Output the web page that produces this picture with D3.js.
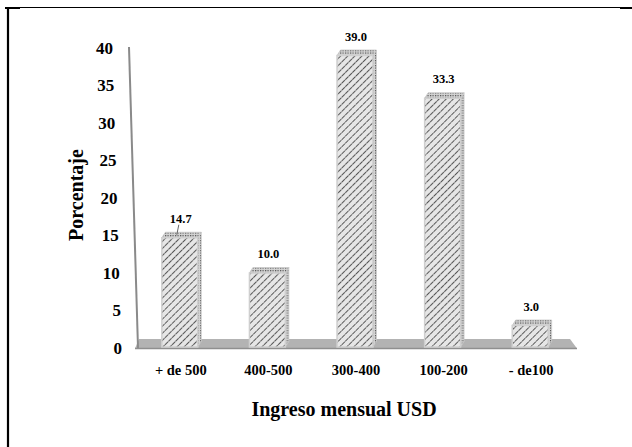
<!DOCTYPE html>
<html>
<head>
<meta charset="utf-8">
<script src="https://cdn.jsdelivr.net/npm/d3@7"></script>
<style>
  html, body { margin: 0; padding: 0; background: #fff; }
  svg { display: block; }
  text { font-family: "Liberation Serif", "Times New Roman", serif; font-weight: bold; fill: #000; }
</style>
</head>
<body>
<svg id="chart" width="632" height="447"></svg>
<script>
// Income brackets and share of households (%)
const categories = ["+ de 500", "400-500", "300-400", "100-200", "- de100"];
const values = [14.7, 10.0, 39.0, 33.3, 3.0];
const yTicks = [0, 5, 10, 15, 20, 25, 30, 35, 40];
const leaderCategories = ["+ de 500"];

const svg = d3.select("#chart");
const defs = svg.append("defs");

// Hatch for the front faces
const hatch = defs.append("pattern")
  .attr("id", "hatch").attr("patternUnits", "userSpaceOnUse")
  .attr("width", 5).attr("height", 5)
  .attr("patternTransform", "rotate(45)");
hatch.append("rect").attr("width", 5).attr("height", 5).attr("fill", "#e6e6e6");
hatch.append("line").attr("x1", 0).attr("y1", 0).attr("x2", 0).attr("y2", 5)
  .attr("stroke", "#333").attr("stroke-width", 1.6).attr("stroke-dasharray", "2.2 0.6");

// Dotted texture for the top and side faces
const dots = defs.append("pattern")
  .attr("id", "dots").attr("patternUnits", "userSpaceOnUse")
  .attr("width", 2.5).attr("height", 2.5);
dots.append("rect").attr("width", 2.5).attr("height", 2.5).attr("fill", "#d4d4d4");
dots.append("rect").attr("width", 1.2).attr("height", 1.2).attr("fill", "#505050");

// Frame lines
svg.append("line").attr("x1", 5).attr("y1", 7.5).attr("x2", 632).attr("y2", 7.5)
  .attr("stroke", "#000").attr("stroke-width", 1.2);
svg.append("line").attr("x1", 5).attr("y1", 8).attr("x2", 20).attr("y2", 8)
  .attr("stroke", "#000").attr("stroke-width", 2);
svg.append("line").attr("x1", 620).attr("y1", 8).attr("x2", 632).attr("y2", 8)
  .attr("stroke", "#000").attr("stroke-width", 2);
svg.append("line").attr("x1", 8).attr("y1", 7).attr("x2", 8).attr("y2", 447)
  .attr("stroke", "#000").attr("stroke-width", 2.2);

// Scales
const y = d3.scaleLinear().domain([0, 40]).range([348, 48]);
const x = d3.scaleBand().domain(categories).range([136, 574]).paddingInner(0.59).paddingOuter(0.295);

// Slanted back edge of the wall: x position as a function of height
const wallX = d3.scaleLinear().domain([0, 40]).range([138, 129]);

// Floor
const floorTop = 339, floorBottom = 348.5;
svg.append("polygon")
  .attr("points", [[139, floorTop], [570, floorTop], [577, floorBottom], [135, floorBottom]].map(p => p.join(",")).join(" "))
  .attr("fill", "#b3b3b3");
svg.append("line").attr("x1", 135).attr("y1", floorBottom).attr("x2", 577).attr("y2", floorBottom)
  .attr("stroke", "#8f8f8f").attr("stroke-width", 1.5);

// Vertical axis line
svg.append("line")
  .attr("x1", wallX(40)).attr("y1", y(40) - 1)
  .attr("x2", wallX(0)).attr("y2", y(0))
  .attr("stroke", "#8a8a8a").attr("stroke-width", 2);

// Tick labels follow the slant of the wall
svg.append("g").selectAll("text").data(yTicks).join("text")
  .attr("x", d => wallX(d) - 16)
  .attr("y", d => y(d) + 5.5)
  .attr("text-anchor", "end")
  .attr("font-size", 17)
  .text(d => d);

// Bars (front, side, top faces)
const dx = 3.5, dy = 5.5;
const bw = x.bandwidth();
const base = 347;
const bars = svg.append("g").selectAll("g").data(categories.map((c, i) => ({ c, v: values[i] }))).join("g");

bars.append("polygon")
  .attr("points", d => {
    const x0 = x(d.c) + bw, t = y(d.v);
    return [[x0, t], [x0 + dx, t - dy], [x0 + dx, base - dy], [x0, base]].map(p => p.join(",")).join(" ");
  })
  .attr("fill", "url(#dots)").attr("stroke", "#c8c8c8").attr("stroke-width", 0.8);

bars.append("polygon")
  .attr("points", d => {
    const x0 = x(d.c), t = y(d.v);
    return [[x0, t], [x0 + dx, t - dy], [x0 + bw + dx, t - dy], [x0 + bw, t]].map(p => p.join(",")).join(" ");
  })
  .attr("fill", "url(#dots)").attr("stroke", "#c8c8c8").attr("stroke-width", 0.8);

bars.append("rect")
  .attr("x", d => x(d.c))
  .attr("y", d => y(d.v))
  .attr("width", bw)
  .attr("height", d => base - y(d.v))
  .attr("fill", "url(#hatch)")
  .attr("stroke", "#cfcfcf").attr("stroke-width", 1.5);

// Value labels
bars.append("text")
  .attr("x", d => x(d.c) + bw / 2 + 1)
  .attr("y", d => y(d.v) - 15)
  .attr("text-anchor", "middle")
  .attr("font-size", 12.5)
  .text(d => d.v.toFixed(1));

bars.filter(d => leaderCategories.includes(d.c)).append("line")
  .attr("x1", d => x(d.c) + bw / 2 - 1).attr("y1", d => y(d.v) - 13)
  .attr("x2", d => x(d.c) + bw / 2 - 3).attr("y2", d => y(d.v) - 3)
  .attr("stroke", "#666").attr("stroke-width", 1);

// Category labels
svg.append("g").selectAll("text").data(categories).join("text")
  .attr("x", d => x(d) + bw / 2 + 1)
  .attr("y", 375)
  .attr("text-anchor", "middle")
  .attr("font-size", 14.5)
  .text(d => d);

// Axis titles
svg.append("text")
  .attr("transform", "translate(83,195) rotate(-90)")
  .attr("text-anchor", "middle")
  .attr("font-size", 20)
  .text("Porcentaje");

svg.append("text")
  .attr("x", 344).attr("y", 416)
  .attr("text-anchor", "middle")
  .attr("font-size", 20)
  .text("Ingreso mensual USD");
</script>
</body>
</html>
